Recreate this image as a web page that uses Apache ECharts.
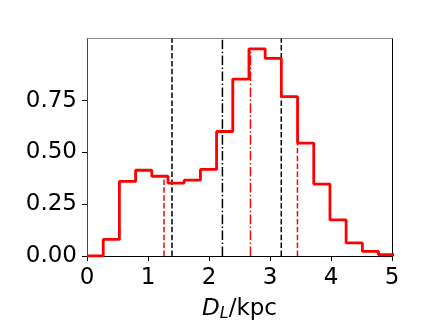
<!DOCTYPE html>
<html>
<head>
<meta charset="utf-8">
<script src="https://cdn.jsdelivr.net/npm/echarts@6/dist/echarts.min.js"></script>
<style>
  html, body { margin: 0; padding: 0; background: #fff; }
  #chart { width: 436px; height: 327px; }
</style>
</head>
<body>
<div id="chart"></div>
<script>
// histogram bin edges (kpc) and normalised heights
var binEdges = [0, 0.266, 0.531, 0.797, 1.062, 1.328, 1.593, 1.859, 2.124, 2.39,
                2.655, 2.921, 3.186, 3.452, 3.717, 3.983, 4.248, 4.514, 4.779, 5.045];
var binHeights = [0, 0.08, 0.36, 0.414, 0.385, 0.352, 0.366, 0.418, 0.601, 0.854,
                  1.0, 0.954, 0.769, 0.545, 0.347, 0.174, 0.063, 0.022, 0.006];

// vertical reference lines
var blackDashed = [1.393, 3.185];
var blackDashDot = [2.22];
var redDashed = [1.262, 3.45];
var redDashDot = [2.68];

var xTicks = [0, 1, 2, 3, 4, 5];
var yTicks = [0, 0.25, 0.5, 0.75];
var yMax = 1.05;

(function() {
    var chart = echarts.init(document.getElementById('chart'), null, { renderer: 'canvas' });

    var font = 'DejaVu Sans';
    var dashed = [5.5, 2.4];
    var dashDot = [9.6, 2.4, 1.5, 2.4];

    // step histogram outline
    var histData = binHeights.map(function(h, i) { return [binEdges[i], h]; });
    histData.push([binEdges[binEdges.length - 1], 0]);

    function heightAt(x) {
        for (var i = 0; i < binHeights.length; i++) {
            if (x >= binEdges[i] && x < binEdges[i + 1]) return binHeights[i];
        }
        return 0;
    }

    function vline(x, top, color, dash) {
        return {
            type: 'line',
            data: [[x, 0], [x, top]],
            symbol: 'none',
            silent: true,
            lineStyle: { color: color, width: 1.5, type: dash },
            z: 3
        };
    }

    var series = [];
    blackDashed.forEach(function(x) { series.push(vline(x, yMax, '#000', dashed)); });
    blackDashDot.forEach(function(x) { series.push(vline(x, yMax, '#000', dashDot)); });
    redDashed.forEach(function(x) { series.push(vline(x, heightAt(x), '#ff0000', dashed)); });
    redDashDot.forEach(function(x) { series.push(vline(x, heightAt(x), '#ff0000', dashDot)); });

    series.push({
        type: 'line',
        step: 'end',
        data: histData,
        symbol: 'none',
        lineStyle: { color: '#ff0000', width: 2.8 },
        z: 4
    });

    var option = {
        animation: false,
        grid: { left: 87, right: 44, top: 38.5, bottom: 66.3 },
        xAxis: [{
            type: 'value',
            min: 0,
            max: 5,
            axisLine: { onZero: false, lineStyle: { color: '#000', width: 1 } },
            axisTick: { show: true, length: 5, customValues: xTicks, lineStyle: { color: '#000' } },
            axisLabel: { color: '#000', fontSize: 23, fontFamily: font, margin: 11, customValues: xTicks },
            splitLine: { show: false },
            name: '{i|D}{sub|L}{n|/kpc}',
            nameLocation: 'middle',
            nameGap: 40,
            nameTextStyle: {
                rich: {
                    i: { fontSize: 23, fontStyle: 'italic', fontFamily: font, color: '#000' },
                    sub: { fontSize: 16, fontStyle: 'italic', fontFamily: font, color: '#000', padding: [10, 0, 0, 0] },
                    n: { fontSize: 23, fontFamily: font, color: '#000' }
                }
            }
        }, {
            type: 'value',
            position: 'top',
            min: 0,
            max: 5,
            axisLine: { show: true, onZero: false, lineStyle: { color: '#888', width: 1 } },
            axisTick: { show: false },
            axisLabel: { show: false },
            splitLine: { show: false }
        }],
        yAxis: [{
            type: 'value',
            min: 0,
            max: yMax,
            axisLine: { show: true, onZero: false, lineStyle: { color: '#444', width: 1 } },
            axisTick: { show: true, length: 5, customValues: yTicks, lineStyle: { color: '#000' } },
            axisLabel: {
                color: '#000', fontSize: 23, fontFamily: font, margin: 10,
                customValues: yTicks,
                formatter: function(v) { return v.toFixed(2); }
            },
            splitLine: { show: false }
        }, {
            type: 'value',
            position: 'right',
            min: 0,
            max: yMax,
            axisLine: { show: true, onZero: false, lineStyle: { color: '#000', width: 1 } },
            axisTick: { show: false },
            axisLabel: { show: false },
            splitLine: { show: false }
        }],
        series: series
    };

    chart.setOption(option);
    window.addEventListener('resize', function() { chart.resize(); });
})();
</script>
</body>
</html>
